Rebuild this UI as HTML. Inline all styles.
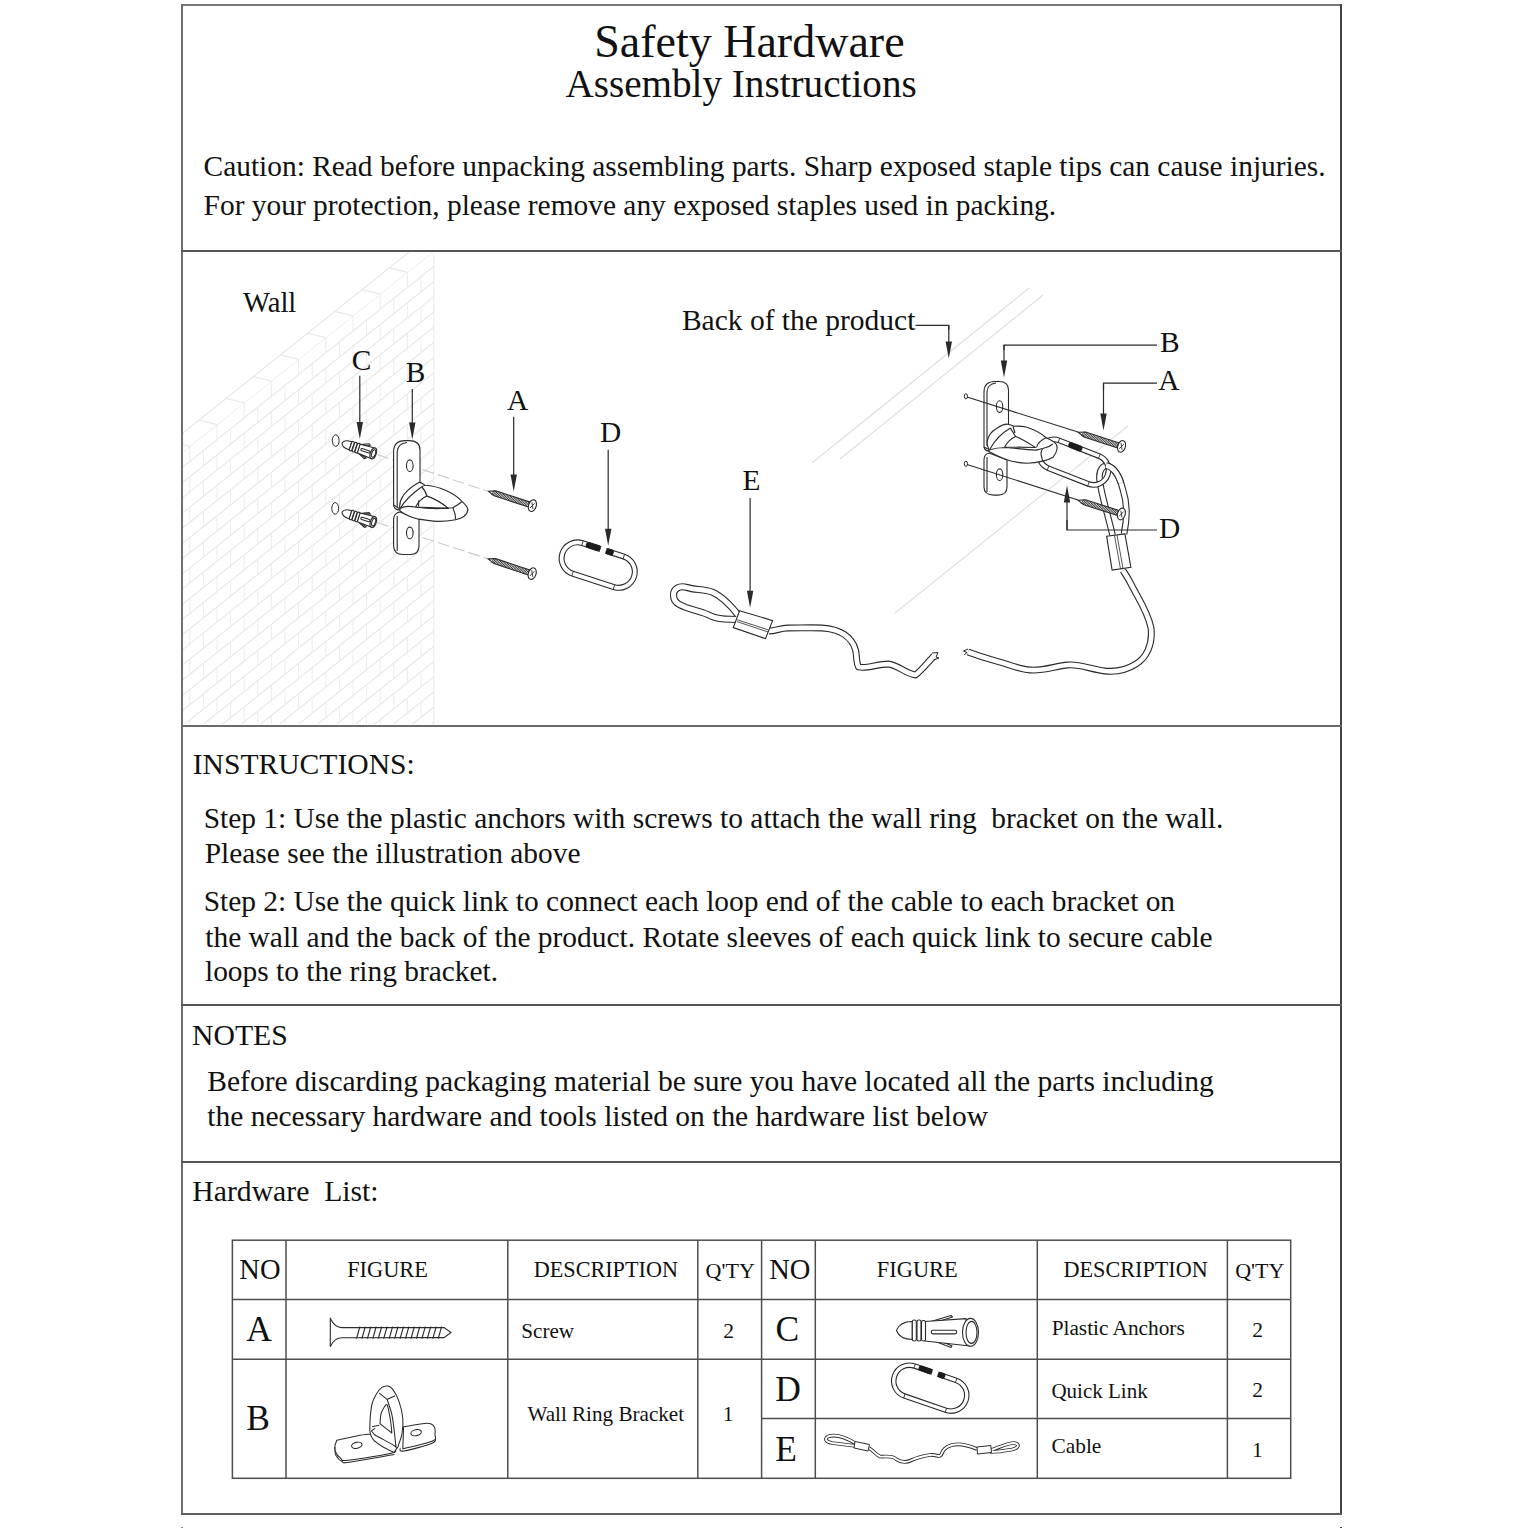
<!DOCTYPE html>
<html><head><meta charset="utf-8"><style>
html,body{margin:0;padding:0;background:#fff;width:1528px;height:1528px;overflow:hidden}
.t{position:absolute;font-family:"Liberation Serif",serif;white-space:pre;}
svg{position:absolute;left:0;top:0}
</style></head><body>
<svg width="1528" height="1528" viewBox="0 0 1528 1528">
<defs><clipPath id="wc"><rect x="183" y="252" width="251.5" height="472"/></clipPath><clipPath id="wb"><path d="M183 451.8 L434 251.0 L434 724 L183 724 Z"/></clipPath></defs><g stroke="#e8e8e8" stroke-width="1.2" fill="none" clip-path="url(#wc)"><path d="M183 451.8 L434 251.0 M183 467.0 L434 266.2 M183 482.2 L434 281.4 M183 497.4 L434 296.6 M183 512.6 L434 311.8 M183 527.8 L434 327.0 M183 543.0 L434 342.2 M183 558.2 L434 357.4 M183 573.4 L434 372.6 M183 588.6 L434 387.8 M183 603.8 L434 403.0 M183 619.0 L434 418.2 M183 634.2 L434 433.4 M183 649.4 L434 448.6 M183 664.6 L434 463.8 M183 679.8 L434 479.0 M183 695.0 L434 494.2 M183 710.2 L434 509.4 M183 725.4 L434 524.6 M183 740.6 L434 539.8 M183 755.8 L434 555.0 M183 771.0 L434 570.2 M183 786.2 L434 585.4 M183 801.4 L434 600.6 M183 816.6 L434 615.8 M183 831.8 L434 631.0 M183 847.0 L434 646.2 M183 862.2 L434 661.4 M183 877.4 L434 676.6 M183 892.6 L434 691.8 M183 907.8 L434 707.0 M183 923.0 L434 722.2 M183 938.2 L434 737.4 " clip-path="url(#wb)"/><path d="M407.4 272.3 L407.4 287.5 M380.2 294.1 L380.2 309.3 M353.0 315.8 L353.0 331.0 M325.8 337.6 L325.8 352.8 M298.6 359.3 L298.6 374.5 M271.4 381.1 L271.4 396.3 M244.2 402.9 L244.2 418.1 M217.0 424.6 L217.0 439.8 M189.8 446.4 L189.8 461.6 M421.0 276.6 L421.0 291.8 M393.8 298.4 L393.8 313.6 M366.6 320.1 L366.6 335.3 M339.4 341.9 L339.4 357.1 M312.2 363.7 L312.2 378.9 M285.0 385.4 L285.0 400.6 M257.8 407.2 L257.8 422.4 M230.6 428.9 L230.6 444.1 M203.4 450.7 L203.4 465.9 M407.4 302.7 L407.4 317.9 M380.2 324.5 L380.2 339.7 M353.0 346.2 L353.0 361.4 M325.8 368.0 L325.8 383.2 M298.6 389.7 L298.6 404.9 M271.4 411.5 L271.4 426.7 M244.2 433.3 L244.2 448.5 M217.0 455.0 L217.0 470.2 M189.8 476.8 L189.8 492.0 M421.0 307.0 L421.0 322.2 M393.8 328.8 L393.8 344.0 M366.6 350.5 L366.6 365.7 M339.4 372.3 L339.4 387.5 M312.2 394.1 L312.2 409.3 M285.0 415.8 L285.0 431.0 M257.8 437.6 L257.8 452.8 M230.6 459.3 L230.6 474.5 M203.4 481.1 L203.4 496.3 M407.4 333.1 L407.4 348.3 M380.2 354.9 L380.2 370.1 M353.0 376.6 L353.0 391.8 M325.8 398.4 L325.8 413.6 M298.6 420.1 L298.6 435.3 M271.4 441.9 L271.4 457.1 M244.2 463.7 L244.2 478.9 M217.0 485.4 L217.0 500.6 M189.8 507.2 L189.8 522.4 M421.0 337.4 L421.0 352.6 M393.8 359.2 L393.8 374.4 M366.6 380.9 L366.6 396.1 M339.4 402.7 L339.4 417.9 M312.2 424.5 L312.2 439.7 M285.0 446.2 L285.0 461.4 M257.8 468.0 L257.8 483.2 M230.6 489.7 L230.6 504.9 M203.4 511.5 L203.4 526.7 M407.4 363.5 L407.4 378.7 M380.2 385.3 L380.2 400.5 M353.0 407.0 L353.0 422.2 M325.8 428.8 L325.8 444.0 M298.6 450.5 L298.6 465.7 M271.4 472.3 L271.4 487.5 M244.2 494.1 L244.2 509.3 M217.0 515.8 L217.0 531.0 M189.8 537.6 L189.8 552.8 M421.0 367.8 L421.0 383.0 M393.8 389.6 L393.8 404.8 M366.6 411.3 L366.6 426.5 M339.4 433.1 L339.4 448.3 M312.2 454.9 L312.2 470.1 M285.0 476.6 L285.0 491.8 M257.8 498.4 L257.8 513.6 M230.6 520.1 L230.6 535.3 M203.4 541.9 L203.4 557.1 M407.4 393.9 L407.4 409.1 M380.2 415.7 L380.2 430.9 M353.0 437.4 L353.0 452.6 M325.8 459.2 L325.8 474.4 M298.6 480.9 L298.6 496.1 M271.4 502.7 L271.4 517.9 M244.2 524.5 L244.2 539.7 M217.0 546.2 L217.0 561.4 M189.8 568.0 L189.8 583.2 M421.0 398.2 L421.0 413.4 M393.8 420.0 L393.8 435.2 M366.6 441.7 L366.6 456.9 M339.4 463.5 L339.4 478.7 M312.2 485.3 L312.2 500.5 M285.0 507.0 L285.0 522.2 M257.8 528.8 L257.8 544.0 M230.6 550.5 L230.6 565.7 M203.4 572.3 L203.4 587.5 M407.4 424.3 L407.4 439.5 M380.2 446.1 L380.2 461.3 M353.0 467.8 L353.0 483.0 M325.8 489.6 L325.8 504.8 M298.6 511.3 L298.6 526.5 M271.4 533.1 L271.4 548.3 M244.2 554.9 L244.2 570.1 M217.0 576.6 L217.0 591.8 M189.8 598.4 L189.8 613.6 M421.0 428.6 L421.0 443.8 M393.8 450.4 L393.8 465.6 M366.6 472.1 L366.6 487.3 M339.4 493.9 L339.4 509.1 M312.2 515.7 L312.2 530.9 M285.0 537.4 L285.0 552.6 M257.8 559.2 L257.8 574.4 M230.6 580.9 L230.6 596.1 M203.4 602.7 L203.4 617.9 M407.4 454.7 L407.4 469.9 M380.2 476.5 L380.2 491.7 M353.0 498.2 L353.0 513.4 M325.8 520.0 L325.8 535.2 M298.6 541.7 L298.6 556.9 M271.4 563.5 L271.4 578.7 M244.2 585.3 L244.2 600.5 M217.0 607.0 L217.0 622.2 M189.8 628.8 L189.8 644.0 M421.0 459.0 L421.0 474.2 M393.8 480.8 L393.8 496.0 M366.6 502.5 L366.6 517.7 M339.4 524.3 L339.4 539.5 M312.2 546.1 L312.2 561.3 M285.0 567.8 L285.0 583.0 M257.8 589.6 L257.8 604.8 M230.6 611.3 L230.6 626.5 M203.4 633.1 L203.4 648.3 M407.4 485.1 L407.4 500.3 M380.2 506.9 L380.2 522.1 M353.0 528.6 L353.0 543.8 M325.8 550.4 L325.8 565.6 M298.6 572.1 L298.6 587.3 M271.4 593.9 L271.4 609.1 M244.2 615.7 L244.2 630.9 M217.0 637.4 L217.0 652.6 M189.8 659.2 L189.8 674.4 M421.0 489.4 L421.0 504.6 M393.8 511.2 L393.8 526.4 M366.6 532.9 L366.6 548.1 M339.4 554.7 L339.4 569.9 M312.2 576.5 L312.2 591.7 M285.0 598.2 L285.0 613.4 M257.8 620.0 L257.8 635.2 M230.6 641.7 L230.6 656.9 M203.4 663.5 L203.4 678.7 M407.4 515.5 L407.4 530.7 M380.2 537.3 L380.2 552.5 M353.0 559.0 L353.0 574.2 M325.8 580.8 L325.8 596.0 M298.6 602.5 L298.6 617.7 M271.4 624.3 L271.4 639.5 M244.2 646.1 L244.2 661.3 M217.0 667.8 L217.0 683.0 M189.8 689.6 L189.8 704.8 M421.0 519.8 L421.0 535.0 M393.8 541.6 L393.8 556.8 M366.6 563.3 L366.6 578.5 M339.4 585.1 L339.4 600.3 M312.2 606.9 L312.2 622.1 M285.0 628.6 L285.0 643.8 M257.8 650.4 L257.8 665.6 M230.6 672.1 L230.6 687.3 M203.4 693.9 L203.4 709.1 M407.4 545.9 L407.4 561.1 M380.2 567.7 L380.2 582.9 M353.0 589.4 L353.0 604.6 M325.8 611.2 L325.8 626.4 M298.6 632.9 L298.6 648.1 M271.4 654.7 L271.4 669.9 M244.2 676.5 L244.2 691.7 M217.0 698.2 L217.0 713.4 M189.8 720.0 L189.8 735.2 M421.0 550.2 L421.0 565.4 M393.8 572.0 L393.8 587.2 M366.6 593.7 L366.6 608.9 M339.4 615.5 L339.4 630.7 M312.2 637.3 L312.2 652.5 M285.0 659.0 L285.0 674.2 M257.8 680.8 L257.8 696.0 M230.6 702.5 L230.6 717.7 M203.4 724.3 L203.4 739.5 M407.4 576.3 L407.4 591.5 M380.2 598.1 L380.2 613.3 M353.0 619.8 L353.0 635.0 M325.8 641.6 L325.8 656.8 M298.6 663.3 L298.6 678.5 M271.4 685.1 L271.4 700.3 M244.2 706.9 L244.2 722.1 M217.0 728.6 L217.0 743.8 M189.8 750.4 L189.8 765.6 M421.0 580.6 L421.0 595.8 M393.8 602.4 L393.8 617.6 M366.6 624.1 L366.6 639.3 M339.4 645.9 L339.4 661.1 M312.2 667.7 L312.2 682.9 M285.0 689.4 L285.0 704.6 M257.8 711.2 L257.8 726.4 M230.6 732.9 L230.6 748.1 M203.4 754.7 L203.4 769.9 M407.4 606.7 L407.4 621.9 M380.2 628.5 L380.2 643.7 M353.0 650.2 L353.0 665.4 M325.8 672.0 L325.8 687.2 M298.6 693.7 L298.6 708.9 M271.4 715.5 L271.4 730.7 M244.2 737.3 L244.2 752.5 M217.0 759.0 L217.0 774.2 M189.8 780.8 L189.8 796.0 M421.0 611.0 L421.0 626.2 M393.8 632.8 L393.8 648.0 M366.6 654.5 L366.6 669.7 M339.4 676.3 L339.4 691.5 M312.2 698.1 L312.2 713.3 M285.0 719.8 L285.0 735.0 M257.8 741.6 L257.8 756.8 M230.6 763.3 L230.6 778.5 M203.4 785.1 L203.4 800.3 M407.4 637.1 L407.4 652.3 M380.2 658.9 L380.2 674.1 M353.0 680.6 L353.0 695.8 M325.8 702.4 L325.8 717.6 M298.6 724.1 L298.6 739.3 M271.4 745.9 L271.4 761.1 M244.2 767.7 L244.2 782.9 M217.0 789.4 L217.0 804.6 M189.8 811.2 L189.8 826.4 M421.0 641.4 L421.0 656.6 M393.8 663.2 L393.8 678.4 M366.6 684.9 L366.6 700.1 M339.4 706.7 L339.4 721.9 M312.2 728.5 L312.2 743.7 M285.0 750.2 L285.0 765.4 M257.8 772.0 L257.8 787.2 M230.6 793.7 L230.6 808.9 M203.4 815.5 L203.4 830.7 M407.4 667.5 L407.4 682.7 M380.2 689.3 L380.2 704.5 M353.0 711.0 L353.0 726.2 M325.8 732.8 L325.8 748.0 M298.6 754.5 L298.6 769.7 M271.4 776.3 L271.4 791.5 M244.2 798.1 L244.2 813.3 M217.0 819.8 L217.0 835.0 M189.8 841.6 L189.8 856.8 M421.0 671.8 L421.0 687.0 M393.8 693.6 L393.8 708.8 M366.6 715.3 L366.6 730.5 M339.4 737.1 L339.4 752.3 M312.2 758.9 L312.2 774.1 M285.0 780.6 L285.0 795.8 M257.8 802.4 L257.8 817.6 M230.6 824.1 L230.6 839.3 M203.4 845.9 L203.4 861.1 M407.4 697.9 L407.4 713.1 M380.2 719.7 L380.2 734.9 M353.0 741.4 L353.0 756.6 M325.8 763.2 L325.8 778.4 M298.6 784.9 L298.6 800.1 M271.4 806.7 L271.4 821.9 M244.2 828.5 L244.2 843.7 M217.0 850.2 L217.0 865.4 M189.8 872.0 L189.8 887.2 M421.0 702.2 L421.0 717.4 M393.8 724.0 L393.8 739.2 M366.6 745.7 L366.6 760.9 M339.4 767.5 L339.4 782.7 M312.2 789.3 L312.2 804.5 M285.0 811.0 L285.0 826.2 M257.8 832.8 L257.8 848.0 M230.6 854.5 L230.6 869.7 M203.4 876.3 L203.4 891.5 M407.4 728.3 L407.4 743.5 M380.2 750.1 L380.2 765.3 M353.0 771.8 L353.0 787.0 M325.8 793.6 L325.8 808.8 M298.6 815.3 L298.6 830.5 M271.4 837.1 L271.4 852.3 M244.2 858.9 L244.2 874.1 M217.0 880.6 L217.0 895.8 M189.8 902.4 L189.8 917.6 M421.0 732.6 L421.0 747.8 M393.8 754.4 L393.8 769.6 M366.6 776.1 L366.6 791.3 M339.4 797.9 L339.4 813.1 M312.2 819.7 L312.2 834.9 M285.0 841.4 L285.0 856.6 M257.8 863.2 L257.8 878.4 M230.6 884.9 L230.6 900.1 M203.4 906.7 L203.4 921.9 " clip-path="url(#wb)" stroke="#ececec" stroke-width="1"/><path d="M443.8 224.3 L461.8 228.8 M416.6 246.0 L434.6 250.5 M389.4 267.8 L407.4 272.3 M362.2 289.6 L380.2 294.1 M335.0 311.3 L353.0 315.8 M307.8 333.1 L325.8 337.6 M280.6 354.8 L298.6 359.3 M253.4 376.6 L271.4 381.1 M226.2 398.4 L244.2 402.9 M199.0 420.1 L217.0 424.6 M171.8 441.9 L189.8 446.4 M144.6 463.6 L162.6 468.1 M144.6 463.6 L443.8 224.3 "/><line x1="434" y1="254" x2="434" y2="724"/></g>
<g stroke="#e0e0e0" stroke-width="1.2"><line x1="812" y1="463" x2="1029" y2="288"/><line x1="840" y1="459" x2="1043" y2="295"/><line x1="895" y1="613" x2="1128" y2="426"/></g>
<g stroke="#cccccc" stroke-width="1.2" stroke-dasharray="12 4"><line x1="377" y1="454.5" x2="487" y2="491"/><line x1="377" y1="522.5" x2="487" y2="558.6"/></g>
<g fill="#fff" stroke="#2a2a2a" stroke-width="1"><ellipse cx="335.7" cy="440.6" rx="3.4" ry="5.8"/><ellipse cx="335.2" cy="508.4" rx="3.4" ry="5.8"/></g>
<g transform="translate(342.00,443.00) rotate(18.38) scale(0.999)" stroke="#2a2a2a" stroke-width="1.10" fill="#fff"><path d="M19 -4.6 L26 -7.8 L27.5 -6.8 L21 -4.4 M19 4.6 L26 7.8 L27.5 6.8 L21 4.4"/><path d="M0 0 C1 -3 4 -4.2 8 -4.2 L9 -4.2 L9 4.2 L8 4.2 C4 4.2 1 3 0 0 Z"/><path d="M17.5 -4.6 L33 -5.6 L33 5.6 L17.5 4.6 Z"/><rect x="9" y="-4.8" width="2.6" height="9.6" rx="1"/><rect x="12" y="-4.9" width="2.6" height="9.8" rx="1"/><rect x="15" y="-4.9" width="2.6" height="9.8" rx="1"/><rect x="20" y="-1.1" width="9.5" height="2.2" rx="1"/><ellipse cx="33" cy="0" rx="2.9" ry="5.6"/><ellipse cx="33.3" cy="0" rx="1.8" ry="3.9"/></g>
<g transform="translate(342.00,512.00) rotate(17.72) scale(0.996)" stroke="#2a2a2a" stroke-width="1.10" fill="#fff"><path d="M19 -4.6 L26 -7.8 L27.5 -6.8 L21 -4.4 M19 4.6 L26 7.8 L27.5 6.8 L21 4.4"/><path d="M0 0 C1 -3 4 -4.2 8 -4.2 L9 -4.2 L9 4.2 L8 4.2 C4 4.2 1 3 0 0 Z"/><path d="M17.5 -4.6 L33 -5.6 L33 5.6 L17.5 4.6 Z"/><rect x="9" y="-4.8" width="2.6" height="9.6" rx="1"/><rect x="12" y="-4.9" width="2.6" height="9.8" rx="1"/><rect x="15" y="-4.9" width="2.6" height="9.8" rx="1"/><rect x="20" y="-1.1" width="9.5" height="2.2" rx="1"/><ellipse cx="33" cy="0" rx="2.9" ry="5.6"/><ellipse cx="33.3" cy="0" rx="1.8" ry="3.9"/></g>
<g fill="#fff" stroke="#2a2a2a" stroke-width="1.1"><path d="M393.6 505 L393.6 452 Q393.6 440.6 405 440.6 L409 440.6 Q420 440.6 420 450 L420 483 L400 509 Z"/><path d="M397.2 507 L397.2 452 Q397.5 443.5 407 442.5" fill="none"/><path d="M393.6 505 Q394 510 400 510" fill="none"/><path d="M400 512 Q394 513 393.6 519 L393.6 546 Q394 554.5 403 554.5 L410 554.5 Q419 554.5 419 546 L419 519 Z"/><path d="M397.2 516 L397.2 551" fill="none"/><ellipse cx="409.8" cy="465.7" rx="3.3" ry="5.8"/><ellipse cx="409.8" cy="532.9" rx="3.3" ry="5.8"/></g>
<g fill="#fff" stroke="#2a2a2a" stroke-width="1.15" stroke-linejoin="round"><path d="M400 509.5 C398 500 405 490 418.9 482.5 C421 482 423 484 425 485.3 C440 486 455 494 461.7 501.1 C466 505 468 508 467.9 510 C467 516 462 518 455.6 519.8 C449 521 443 521.5 437.3 521.4 C430 521 424 520 417.8 519 C410 517 404 514 400 511 Z"/><path d="M415.6 507 C418 502 422 498 426.7 495.9 C435 499 442 503 448.4 508.4 Z"/><path d="M400 508.4 C404 506 410 506 415 507 C425 508.5 440 509 452.8 507.8 C456 506 459 504 461.7 501.7" fill="none"/><path d="M400.5 508 C405 500 413 493 421.1 487.2 C423 486 424 485.5 425 485.3" fill="none"/><path d="M421.7 487 C424 489 426 493 426.7 495.9" fill="none"/><path d="M452.8 507.8 C455 512 455.6 516 455.6 519.8" fill="none"/><path d="M418.6 500.5 L418.6 506.5" fill="none"/></g>
<g transform="translate(488.40,491.20) rotate(18.12)"><path d="M0 0 L7 -2.6 L42.5 -2.6 L42.5 2.6 L7 2.6 Z" fill="#fff" stroke="#2a2a2a" stroke-width="1.1"/><path d="M4.0 2.6 L5.6 -2.6 M5.5 2.6 L7.1 -2.6 M6.9 2.6 L8.5 -2.6 M8.3 2.6 L9.9 -2.6 M9.8 2.6 L11.4 -2.6 M11.2 2.6 L12.8 -2.6 M12.7 2.6 L14.3 -2.6 M14.1 2.6 L15.7 -2.6 M15.6 2.6 L17.2 -2.6 M17.0 2.6 L18.6 -2.6 M18.5 2.6 L20.1 -2.6 M19.9 2.6 L21.5 -2.6 M21.4 2.6 L23.0 -2.6 M22.8 2.6 L24.4 -2.6 M24.3 2.6 L25.9 -2.6 M25.7 2.6 L27.3 -2.6 M27.2 2.6 L28.8 -2.6 M28.6 2.6 L30.2 -2.6 M30.1 2.6 L31.7 -2.6 M31.5 2.6 L33.1 -2.6 M33.0 2.6 L34.6 -2.6 M34.4 2.6 L36.0 -2.6 M35.9 2.6 L37.5 -2.6 M37.4 2.6 L39.0 -2.6 M38.8 2.6 L40.4 -2.6 M40.3 2.6 L41.9 -2.6 " stroke="#333" stroke-width="0.9"/><ellipse cx="46.3" cy="0" rx="3.8" ry="6.0" fill="#fff" stroke="#2a2a2a" stroke-width="1.1"/><path d="M44.8 -3 L47.8 3 M47.8 -3 L44.8 3" stroke="#2a2a2a" stroke-width="0.8"/></g>
<g transform="translate(488.20,558.90) rotate(18.47)"><path d="M0 0 L7 -2.6 L42.6 -2.6 L42.6 2.6 L7 2.6 Z" fill="#fff" stroke="#2a2a2a" stroke-width="1.1"/><path d="M4.0 2.6 L5.6 -2.6 M5.5 2.6 L7.1 -2.6 M6.9 2.6 L8.5 -2.6 M8.3 2.6 L9.9 -2.6 M9.8 2.6 L11.4 -2.6 M11.2 2.6 L12.8 -2.6 M12.7 2.6 L14.3 -2.6 M14.1 2.6 L15.7 -2.6 M15.6 2.6 L17.2 -2.6 M17.0 2.6 L18.6 -2.6 M18.5 2.6 L20.1 -2.6 M19.9 2.6 L21.5 -2.6 M21.4 2.6 L23.0 -2.6 M22.8 2.6 L24.4 -2.6 M24.3 2.6 L25.9 -2.6 M25.7 2.6 L27.3 -2.6 M27.2 2.6 L28.8 -2.6 M28.6 2.6 L30.2 -2.6 M30.1 2.6 L31.7 -2.6 M31.5 2.6 L33.1 -2.6 M33.0 2.6 L34.6 -2.6 M34.4 2.6 L36.0 -2.6 M35.9 2.6 L37.5 -2.6 M37.4 2.6 L39.0 -2.6 M38.8 2.6 L40.4 -2.6 M40.3 2.6 L41.9 -2.6 " stroke="#333" stroke-width="0.9"/><ellipse cx="46.4" cy="0" rx="3.8" ry="6.0" fill="#fff" stroke="#2a2a2a" stroke-width="1.1"/><path d="M44.9 -3 L47.9 3 M47.9 -3 L44.9 3" stroke="#2a2a2a" stroke-width="0.8"/></g>
<line x1="359.8" y1="375.8" x2="359.8" y2="424.0" stroke="#2a2a2a" stroke-width="1.2"/>
<path d="M356.6 422.0 L363.0 422.0 L359.8 439.0 Z" fill="#2a2a2a"/>
<line x1="412.3" y1="389" x2="412.3" y2="424.5" stroke="#2a2a2a" stroke-width="1.2"/>
<path d="M409.1 422.5 L415.5 422.5 L412.3 439.5 Z" fill="#2a2a2a"/>
<line x1="513.7" y1="416.8" x2="513.7" y2="476.40000000000003" stroke="#2a2a2a" stroke-width="1.2"/>
<path d="M510.50000000000006 474.40000000000003 L516.9000000000001 474.40000000000003 L513.7 491.40000000000003 Z" fill="#2a2a2a"/>
<path d="M582.44 543.13 L623.84 556.53 A16.05 16.05 0 0 1 613.96 587.07 L572.56 573.67 A16.05 16.05 0 0 1 582.44 543.13 Z" fill="none" stroke="#2a2a2a" stroke-width="6.0"/><path d="M582.44 543.13 L623.84 556.53 A16.05 16.05 0 0 1 613.96 587.07 L572.56 573.67 A16.05 16.05 0 0 1 582.44 543.13 Z" fill="none" stroke="#fff" stroke-width="3.8000000000000003"/><line x1="581.69" y1="545.46" x2="583.20" y2="540.80" stroke="#2a2a2a" stroke-width="0.9"/><line x1="573.31" y1="571.34" x2="571.80" y2="576.00" stroke="#2a2a2a" stroke-width="0.9"/><line x1="623.09" y1="558.86" x2="624.60" y2="554.20" stroke="#2a2a2a" stroke-width="0.9"/><line x1="614.71" y1="584.74" x2="613.20" y2="589.40" stroke="#2a2a2a" stroke-width="0.9"/><line x1="600.66" y1="549.03" x2="605.75" y2="550.67" stroke="#fff" stroke-width="7.9"/><line x1="588.88" y1="545.21" x2="597.66" y2="548.06" stroke="#1c1c1c" stroke-width="6.30" stroke-linecap="round"/><line x1="608.75" y1="551.64" x2="610.70" y2="552.28" stroke="#1c1c1c" stroke-width="6.30" stroke-linecap="round"/>
<line x1="608.2" y1="449.8" x2="608.2" y2="530.8" stroke="#2a2a2a" stroke-width="1.2"/>
<path d="M605.0 528.8 L611.4000000000001 528.8 L608.2 545.8 Z" fill="#2a2a2a"/>
<path d="M739 616 C732 607 722 596 712 592 C704 589 695 590 687 587.5 C680 585.5 673 588 673.5 596 C674 603 680 605 686 607.5 C696 611 704 612 712 616.5 C720 620 728 619 737 619.5" fill="none" stroke="#2a2a2a" stroke-width="7.1" stroke-linejoin="round" stroke-linecap="butt"/>
<path d="M739 616 C732 607 722 596 712 592 C704 589 695 590 687 587.5 C680 585.5 673 588 673.5 596 C674 603 680 605 686 607.5 C696 611 704 612 712 616.5 C720 620 728 619 737 619.5" fill="none" stroke="#fff" stroke-width="4.9" stroke-linejoin="round" stroke-linecap="butt"/>
<path d="M769 631 C776 631 780 628 788 628 C800 628 812 627.5 822 628 C840 629 852 637 855.5 650 C857 656 856 662 858.5 667 C866 669 878 664 888 664 C898 665 906 674 915.5 675 C922 670 928 662 934 656" fill="none" stroke="#2a2a2a" stroke-width="6.9" stroke-linejoin="round" stroke-linecap="butt"/>
<path d="M769 631 C776 631 780 628 788 628 C800 628 812 627.5 822 628 C840 629 852 637 855.5 650 C857 656 856 662 858.5 667 C866 669 878 664 888 664 C898 665 906 674 915.5 675 C922 670 928 662 934 656" fill="none" stroke="#fff" stroke-width="4.699999999999999" stroke-linejoin="round" stroke-linecap="butt"/>
<path d="M932 653 L938 652.5 L936 657 L939 658 L933.5 660" fill="#fff" stroke="#2a2a2a" stroke-width="1"/>
<path d="M739.6 610.7 L772.6 620.6 L765.5 638.6 L733.3 627.6 Z" fill="#fff" stroke="#2a2a2a" stroke-width="1.1"/>
<path d="M737.3 619.8 L768.7 630 M737 621.6 L768.2 632" stroke="#2a2a2a" stroke-width="0.8"/>
<line x1="750.1" y1="498" x2="750.1" y2="592.8" stroke="#2a2a2a" stroke-width="1.2"/>
<path d="M746.9 590.8 L753.3000000000001 590.8 L750.1 607.8 Z" fill="#2a2a2a"/>
<g fill="#fff" stroke="#2a2a2a" stroke-width="1.1"><path d="M984 447 L984 392 Q984 381.5 995 381.5 L999 381.5 Q1008.5 381.5 1008.5 390 L1008.5 424 L990 450 Z"/><path d="M987 446 L987 392 Q987.5 384 996 383" fill="none"/><path d="M984 447 Q985 451 989 451" fill="none"/><path d="M989 453 Q984 454 984 460 L984 487 Q984 495.1 994 495.1 L998 495.1 Q1007 495.1 1007 487 L1007 460 Z"/><path d="M987 457 L987 492" fill="none"/><ellipse cx="999.6" cy="406.6" rx="3.2" ry="5.8"/><ellipse cx="999.6" cy="474.7" rx="3.2" ry="5.8"/></g>
<path d="M1124 534 C1128 515 1127 502 1123 490 C1120 478 1115 468 1108 466 C1103 465 1099 470 1099.5 478 C1100 490 1108 515 1112.5 535" fill="none" stroke="#2a2a2a" stroke-width="6.699999999999999" stroke-linejoin="round" stroke-linecap="butt"/>
<path d="M1124 534 C1128 515 1127 502 1123 490 C1120 478 1115 468 1108 466 C1103 465 1099 470 1099.5 478 C1100 490 1108 515 1112.5 535" fill="none" stroke="#fff" stroke-width="4.5" stroke-linejoin="round" stroke-linecap="butt"/>
<path d="M1058.96 440.34 L1099.36 456.24 A14.899999999999999 14.899999999999999 0 0 1 1088.44 483.96 L1048.04 468.06 A14.899999999999999 14.899999999999999 0 0 1 1058.96 440.34 Z" fill="none" stroke="#2a2a2a" stroke-width="5.699999999999999"/><path d="M1058.96 440.34 L1099.36 456.24 A14.899999999999999 14.899999999999999 0 0 1 1088.44 483.96 L1048.04 468.06 A14.899999999999999 14.899999999999999 0 0 1 1058.96 440.34 Z" fill="none" stroke="#fff" stroke-width="3.4999999999999996"/><line x1="1058.11" y1="442.48" x2="1059.80" y2="438.19" stroke="#2a2a2a" stroke-width="0.9"/><line x1="1048.89" y1="465.92" x2="1047.20" y2="470.21" stroke="#2a2a2a" stroke-width="0.9"/><line x1="1098.51" y1="458.38" x2="1100.20" y2="454.09" stroke="#2a2a2a" stroke-width="0.9"/><line x1="1089.29" y1="481.82" x2="1087.60" y2="486.11" stroke="#2a2a2a" stroke-width="0.9"/><line x1="1071.28" y1="445.19" x2="1079.44" y2="448.39" stroke="#1c1c1c" stroke-width="6.00" stroke-linecap="round"/>
<g fill="#fff" stroke="#2a2a2a" stroke-width="1.15" stroke-linejoin="round"><path d="M988.9 449 C985 443 988 434 995.7 429.1 C1000 426 1004 424 1007.7 424.2 C1010 424.5 1012 425.5 1014 426.3 C1018 426 1022 426 1026 427 C1034 429.5 1041 433 1046.5 438 C1049 439 1051 440 1052.8 441.2 C1056 443 1057.5 446 1057 449 C1056.5 452 1055 455 1053.3 456.9 C1050 459 1046 460.5 1042.8 461.1 C1037 462.5 1032 463.2 1027.1 463.2 C1019 463 1012 461.5 1006.2 459.5 C999 457 993 454 988.9 451.6 Z"/><path d="M1004.6 447 C1008 441 1012 438 1015.6 436.5 C1024 440 1030 444 1035.5 447.5 Z"/><path d="M989 450 C995 448 1000 447.5 1006.2 447.5 C1015 448 1025 450 1035 450.1 C1038 450 1040 449 1042.8 448.5 C1046 448 1050 446.5 1052.8 444" fill="none"/><path d="M990 449 C995 440 1002 433 1010.4 428.1" fill="none"/><path d="M1010.4 428.1 L1015.6 436.5 M1013 426.3 L1015 433" fill="none"/><path d="M1046.5 437.5 C1041 440 1037.5 443 1036.5 447.5" fill="none"/><path d="M1042.8 461.1 C1041 455 1040 452 1042.8 448.5" fill="none"/></g>
<path d="M1106 465.5 C1113 467 1118 474 1121 483" fill="none" stroke="#2a2a2a" stroke-width="6.7"/><path d="M1106 465.5 C1113 467 1118 474 1121 483" fill="none" stroke="#fff" stroke-width="4.5"/>
<path d="M1106.6 536.2 L1124.9 533.9 L1130.9 567.4 L1112.1 570.1 Z" fill="#fff" stroke="#2a2a2a" stroke-width="1.1"/>
<path d="M1114.5 535.5 L1120.5 569 M1117 535 L1123 568.5" stroke="#2a2a2a" stroke-width="0.8"/>
<path d="M1123 570.5 C1126 575 1128 578 1131 584 C1138 598 1148 612 1151 628 C1153 645 1146 658 1136 664 C1125 671 1115 672 1105 671 C1090 669 1080 664 1068 665 C1055 666 1045 671 1030 670 C1018 669 1008 664 996 661 C985 658 976 655 968 652" fill="none" stroke="#2a2a2a" stroke-width="6.9" stroke-linejoin="round" stroke-linecap="butt"/>
<path d="M1123 570.5 C1126 575 1128 578 1131 584 C1138 598 1148 612 1151 628 C1153 645 1146 658 1136 664 C1125 671 1115 672 1105 671 C1090 669 1080 664 1068 665 C1055 666 1045 671 1030 670 C1018 669 1008 664 996 661 C985 658 976 655 968 652" fill="none" stroke="#fff" stroke-width="4.699999999999999" stroke-linejoin="round" stroke-linecap="butt"/>
<path d="M968 649 L963.5 651 L967 652.5 L964 655" fill="none" stroke="#2a2a2a" stroke-width="1"/>
<g fill="none" stroke="#2a2a2a" stroke-width="1"><ellipse cx="965.9" cy="396.3" rx="1.6" ry="2.6"/><ellipse cx="965.9" cy="463.8" rx="1.6" ry="2.6"/></g>
<g stroke="#2a2a2a" stroke-width="1.05"><line x1="967" y1="397" x2="1078" y2="432"/><line x1="967" y1="464.5" x2="1078" y2="500"/></g>
<g transform="translate(1078.20,432.30) rotate(18.00)"><path d="M0 0 L7 -2.6 L41.8 -2.6 L41.8 2.6 L7 2.6 Z" fill="#fff" stroke="#2a2a2a" stroke-width="1.1"/><path d="M4.0 2.6 L5.6 -2.6 M5.5 2.6 L7.1 -2.6 M6.9 2.6 L8.5 -2.6 M8.3 2.6 L9.9 -2.6 M9.8 2.6 L11.4 -2.6 M11.2 2.6 L12.8 -2.6 M12.7 2.6 L14.3 -2.6 M14.1 2.6 L15.7 -2.6 M15.6 2.6 L17.2 -2.6 M17.0 2.6 L18.6 -2.6 M18.5 2.6 L20.1 -2.6 M19.9 2.6 L21.5 -2.6 M21.4 2.6 L23.0 -2.6 M22.8 2.6 L24.4 -2.6 M24.3 2.6 L25.9 -2.6 M25.7 2.6 L27.3 -2.6 M27.2 2.6 L28.8 -2.6 M28.6 2.6 L30.2 -2.6 M30.1 2.6 L31.7 -2.6 M31.5 2.6 L33.1 -2.6 M33.0 2.6 L34.6 -2.6 M34.4 2.6 L36.0 -2.6 M35.9 2.6 L37.5 -2.6 M37.4 2.6 L39.0 -2.6 M38.8 2.6 L40.4 -2.6 M40.3 2.6 L41.9 -2.6 " stroke="#333" stroke-width="0.9"/><ellipse cx="45.6" cy="0" rx="3.8" ry="6.0" fill="#fff" stroke="#2a2a2a" stroke-width="1.1"/><path d="M44.1 -3 L47.1 3 M47.1 -3 L44.1 3" stroke="#2a2a2a" stroke-width="0.8"/></g>
<g transform="translate(1078.00,500.20) rotate(17.64)"><path d="M0 0 L7 -2.6 L41.7 -2.6 L41.7 2.6 L7 2.6 Z" fill="#fff" stroke="#2a2a2a" stroke-width="1.1"/><path d="M4.0 2.6 L5.6 -2.6 M5.5 2.6 L7.1 -2.6 M6.9 2.6 L8.5 -2.6 M8.3 2.6 L9.9 -2.6 M9.8 2.6 L11.4 -2.6 M11.2 2.6 L12.8 -2.6 M12.7 2.6 L14.3 -2.6 M14.1 2.6 L15.7 -2.6 M15.6 2.6 L17.2 -2.6 M17.0 2.6 L18.6 -2.6 M18.5 2.6 L20.1 -2.6 M19.9 2.6 L21.5 -2.6 M21.4 2.6 L23.0 -2.6 M22.8 2.6 L24.4 -2.6 M24.3 2.6 L25.9 -2.6 M25.7 2.6 L27.3 -2.6 M27.2 2.6 L28.8 -2.6 M28.6 2.6 L30.2 -2.6 M30.1 2.6 L31.7 -2.6 M31.5 2.6 L33.1 -2.6 M33.0 2.6 L34.6 -2.6 M34.4 2.6 L36.0 -2.6 M35.9 2.6 L37.5 -2.6 M37.4 2.6 L39.0 -2.6 M38.8 2.6 L40.4 -2.6 M40.3 2.6 L41.9 -2.6 " stroke="#333" stroke-width="0.9"/><ellipse cx="45.5" cy="0" rx="3.8" ry="6.0" fill="#fff" stroke="#2a2a2a" stroke-width="1.1"/><path d="M44.0 -3 L47.0 3 M47.0 -3 L44.0 3" stroke="#2a2a2a" stroke-width="0.8"/></g>
<g stroke="#2a2a2a" stroke-width="1.2" fill="none"><path d="M1157 345.1 L1004 345.1 L1004 350"/><path d="M1157 383.2 L1103.5 383.2 L1103.5 390"/><path d="M1157 530 L1067 530 L1067 520"/><path d="M915.5 325.4 L948.8 325.4 L948.8 330"/></g>
<line x1="1004" y1="345.1" x2="1004" y2="362.40000000000003" stroke="#2a2a2a" stroke-width="1.2"/>
<path d="M1000.8 360.40000000000003 L1007.2 360.40000000000003 L1004 377.40000000000003 Z" fill="#2a2a2a"/>
<line x1="1103.5" y1="383.2" x2="1103.5" y2="415.6" stroke="#2a2a2a" stroke-width="1.2"/>
<path d="M1100.3 413.6 L1106.7 413.6 L1103.5 430.6 Z" fill="#2a2a2a"/>
<line x1="1067" y1="530" x2="1067" y2="500.4" stroke="#2a2a2a" stroke-width="1.2"/>
<path d="M1063.8 502.4 L1070.2 502.4 L1067 485.4 Z" fill="#2a2a2a"/>
<line x1="948.8" y1="325.4" x2="948.8" y2="343.6" stroke="#2a2a2a" stroke-width="1.2"/>
<path d="M945.5999999999999 341.6 L952.0 341.6 L948.8 358.6 Z" fill="#2a2a2a"/>
<g stroke="#2a2a2a" stroke-width="1.1" fill="none"><path d="M330.3 1317.8 L330.3 1346.7"/><path d="M330.3 1318.5 C333 1324 336 1327.6 342 1327.6 L444 1327.6 L451 1332.5 L444 1337.6 L342 1337.8 C336 1337.8 333 1341 330.3 1346.5"/><path d="M356.5 1338.6 L359.9 1326.6 M361.9 1338.6 L365.3 1326.6 M367.4 1338.6 L370.8 1326.6 M372.8 1338.6 L376.2 1326.6 M378.3 1338.6 L381.7 1326.6 M383.7 1338.6 L387.1 1326.6 M389.2 1338.6 L392.6 1326.6 M394.6 1338.6 L398.0 1326.6 M400.1 1338.6 L403.5 1326.6 M405.5 1338.6 L408.9 1326.6 M411.0 1338.6 L414.4 1326.6 M416.4 1338.6 L419.8 1326.6 M421.9 1338.6 L425.3 1326.6 M427.3 1338.6 L430.7 1326.6 M432.8 1338.6 L436.2 1326.6 M438.2 1338.6 L441.6 1326.6 " stroke-width="1.15"/></g>
<g fill="#fff" stroke="#2a2a2a" stroke-width="1.05" stroke-linejoin="round"><path d="M400.00 1448.00 C400.60 1448.50 398.17 1451.83 403.60 1451.00 C409.03 1450.17 427.33 1445.50 432.60 1443.00 C437.87 1440.50 434.77 1437.17 435.20 1436.00 " fill="none"/><path d="M403.60 1426.80 C407.52 1426.22 422.00 1423.30 427.10 1423.30 C432.20 1423.30 432.88 1424.90 434.20 1426.80 C435.52 1428.70 435.27 1432.33 435.00 1434.70 C434.73 1437.07 437.97 1438.63 432.60 1441.00 C427.23 1443.37 407.77 1447.58 402.80 1448.90 Z"/><ellipse cx="416.1" cy="1432.7" rx="5.3" ry="3.0" transform="rotate(-12 416.1 1432.7)"/><path d="M334.60 1447.00 C334.83 1448.42 334.77 1453.08 336.00 1455.50 C337.23 1457.92 339.83 1460.37 342.00 1461.50 C344.17 1462.63 340.25 1463.45 349.00 1462.30 C357.75 1461.15 386.92 1455.88 394.50 1454.60 " fill="none"/><path d="M336.80 1440.20 C342.17 1439.22 362.63 1434.17 369.00 1434.30 C375.37 1434.43 372.38 1438.80 375.00 1441.00 C377.62 1443.20 381.52 1445.60 384.70 1447.50 C387.88 1449.40 400.25 1450.28 394.10 1452.40 C387.95 1454.52 356.70 1459.22 347.80 1460.20 C338.90 1461.18 342.73 1459.67 340.70 1458.30 C338.67 1456.93 336.55 1454.18 335.60 1452.00 C334.65 1449.82 335.10 1446.33 335.00 1445.20 Z"/><ellipse cx="356.8" cy="1445.3" rx="5.3" ry="3.0" transform="rotate(-12 356.8 1445.3)"/><path d="M369.80 1430.00 C369.87 1428.00 369.83 1422.33 370.20 1418.00 C370.57 1413.67 371.02 1407.90 372.00 1404.00 C372.98 1400.10 374.50 1397.33 376.10 1394.60 C377.70 1391.87 379.65 1389.03 381.60 1387.60 C383.55 1386.17 385.97 1385.75 387.80 1386.00 C389.63 1386.25 390.77 1386.62 392.60 1389.10 C394.43 1391.58 397.10 1396.05 398.80 1400.90 C400.50 1405.75 402.27 1412.70 402.80 1418.20 C403.33 1423.70 402.67 1429.58 402.00 1433.90 C401.33 1438.22 399.45 1442.00 398.80 1444.10 C398.15 1446.20 398.22 1446.10 398.10 1446.50  L394.1 1452.4 C388 1450 380 1446 373.7 1440.2 C371 1437 370 1433 369.8 1430 Z"/><path d="M380.00 1423.70 C380.17 1422.08 380.33 1416.70 381.00 1414.00 C381.67 1411.30 382.98 1409.03 384.00 1407.50 C385.02 1405.97 386.20 1403.67 387.10 1404.80 C388.00 1405.93 388.75 1411.10 389.40 1414.30 C390.05 1417.50 390.60 1420.88 391.00 1424.00 C391.40 1427.12 391.67 1431.50 391.80 1433.00  C388 1430 384 1427 380 1423.7 Z"/><path d="M387.10 1399.40 C387.88 1401.88 390.63 1409.20 391.80 1414.30 C392.97 1419.40 393.45 1425.03 394.10 1430.00 C394.75 1434.97 395.30 1440.93 395.70 1444.10 C396.10 1447.27 396.37 1448.18 396.50 1449.00 " fill="none"/><path d="M371.50 1431.00 C372.08 1431.67 373.58 1433.87 375.00 1435.00 C376.42 1436.13 377.20 1436.28 380.00 1437.80 C382.80 1439.32 389.13 1442.57 391.80 1444.10 C394.47 1445.63 395.30 1446.52 396.00 1447.00 " fill="none"/><path d="M379.2 1393.1 L387.1 1399.4 L395 1395.8 M372.1 1426.8 L379.2 1425.3 M371.3 1430.8 L375.3 1428.4" fill="none"/></g>
<g fill="#fff" stroke="#2a2a2a" stroke-width="1.1" stroke-linejoin="round"><path d="M931 1321.5 L951 1315.5 L952.5 1317 L934 1323 M931 1339.7 L951 1347.5 L952 1346 L934 1338" /><path d="M896.4 1330.5 C899 1324 905 1321.5 912.3 1321.5 L912.3 1339.5 C905 1339.5 899 1337 896.4 1330.5 Z"/><path d="M925 1321.5 L966 1318.6 L970 1346 L925 1341 Z"/><rect x="912.3" y="1320" width="4" height="21" rx="1.8"/><rect x="917" y="1320" width="4" height="21" rx="1.8"/><rect x="921.5" y="1320.5" width="4" height="20.5" rx="1.8"/><rect x="931.2" y="1330.2" width="25.5" height="3.7" rx="1.8"/><ellipse cx="970.5" cy="1332.4" rx="8" ry="14"/><ellipse cx="971.5" cy="1332.4" rx="5.5" ry="11"/></g>
<path d="M914.65 1366.06 L956.15 1380.36 A15.8 15.8 0 0 1 945.85 1410.24 L904.35 1395.94 A15.8 15.8 0 0 1 914.65 1366.06 Z" fill="none" stroke="#2a2a2a" stroke-width="5.5"/><path d="M914.65 1366.06 L956.15 1380.36 A15.8 15.8 0 0 1 945.85 1410.24 L904.35 1395.94 A15.8 15.8 0 0 1 914.65 1366.06 Z" fill="none" stroke="#fff" stroke-width="3.3000000000000003"/><line x1="913.93" y1="1368.14" x2="915.36" y2="1363.98" stroke="#2a2a2a" stroke-width="0.9"/><line x1="905.07" y1="1393.86" x2="903.64" y2="1398.02" stroke="#2a2a2a" stroke-width="0.9"/><line x1="955.43" y1="1382.44" x2="956.86" y2="1378.28" stroke="#2a2a2a" stroke-width="0.9"/><line x1="946.57" y1="1408.16" x2="945.14" y2="1412.32" stroke="#2a2a2a" stroke-width="0.9"/><line x1="932.33" y1="1372.15" x2="937.72" y2="1374.01" stroke="#fff" stroke-width="7.4"/><line x1="921.37" y1="1368.38" x2="929.58" y2="1371.21" stroke="#1c1c1c" stroke-width="5.80" stroke-linecap="round"/><line x1="940.46" y1="1374.96" x2="942.53" y2="1375.67" stroke="#1c1c1c" stroke-width="5.80" stroke-linecap="round"/>
<path d="M855 1443 C845 1437 835 1434 828 1436.5 C824 1439 826 1442 832 1443 C840 1444 848 1445 856 1446" fill="none" stroke="#2a2a2a" stroke-width="3.6999999999999997" stroke-linejoin="round" stroke-linecap="butt"/>
<path d="M855 1443 C845 1437 835 1434 828 1436.5 C824 1439 826 1442 832 1443 C840 1444 848 1445 856 1446" fill="none" stroke="#fff" stroke-width="1.9" stroke-linejoin="round" stroke-linecap="butt"/>
<path d="M869 1448 C874 1451 876 1455 880 1456.5 C886 1457 892 1455 896 1459 C900 1462 906 1463 912 1460 C918 1457 924 1456 930 1455 C936 1454 939 1458 941 1455 C943 1450 945 1447 952 1445 C960 1443 970 1446 977 1449" fill="none" stroke="#2a2a2a" stroke-width="3.6999999999999997" stroke-linejoin="round" stroke-linecap="butt"/>
<path d="M869 1448 C874 1451 876 1455 880 1456.5 C886 1457 892 1455 896 1459 C900 1462 906 1463 912 1460 C918 1457 924 1456 930 1455 C936 1454 939 1458 941 1455 C943 1450 945 1447 952 1445 C960 1443 970 1446 977 1449" fill="none" stroke="#fff" stroke-width="1.9" stroke-linejoin="round" stroke-linecap="butt"/>
<path d="M991 1450 C1000 1447 1008 1443 1014 1443 C1020 1444 1019 1448 1012 1449.5 C1004 1451 996 1452 990 1452" fill="none" stroke="#2a2a2a" stroke-width="3.6999999999999997" stroke-linejoin="round" stroke-linecap="butt"/>
<path d="M991 1450 C1000 1447 1008 1443 1014 1443 C1020 1444 1019 1448 1012 1449.5 C1004 1451 996 1452 990 1452" fill="none" stroke="#fff" stroke-width="1.9" stroke-linejoin="round" stroke-linecap="butt"/>
<g fill="#fff" stroke="#2a2a2a" stroke-width="1"><path d="M855 1441.5 L869.5 1444.5 L868 1451 L854 1448 Z"/><path d="M977 1447 L990.8 1445.5 L991.5 1452.5 L977.5 1454 Z"/></g>
<g fill="none" shape-rendering="crispEdges">
<line x1="181" y1="5" x2="1342" y2="5" stroke="#777" stroke-width="2"/>
<line x1="182" y1="4" x2="182" y2="1515" stroke="#6e6e6e" stroke-width="2"/>
<line x1="1341" y1="4" x2="1341" y2="1515" stroke="#444" stroke-width="2"/>
<line x1="181" y1="1514" x2="1342" y2="1514" stroke="#5e5e5e" stroke-width="2"/>
<line x1="182" y1="1527" x2="182" y2="1528" stroke="#888" stroke-width="2"/>
<line x1="1341" y1="1527" x2="1341" y2="1528" stroke="#444" stroke-width="2"/>
<line x1="181" y1="251" x2="1342" y2="251" stroke="#555" stroke-width="2"/>
<line x1="181" y1="726" x2="1342" y2="726" stroke="#6a6a6a" stroke-width="2"/>
<line x1="181" y1="1005" x2="1342" y2="1005" stroke="#555" stroke-width="2"/>
<line x1="181" y1="1162" x2="1342" y2="1162" stroke="#555" stroke-width="2"/>
<g stroke="#4e4e4e" stroke-width="1.5" shape-rendering="auto">
<rect x="232.4" y="1240.2" width="1058.3" height="238.1"/>
<line x1="232" y1="1299.6" x2="1291" y2="1299.6"/>
<line x1="232" y1="1359.3" x2="1291" y2="1359.3"/>
<line x1="761" y1="1418.6" x2="1291" y2="1418.6"/>
<line x1="286" y1="1240" x2="286" y2="1478"/>
<line x1="507.8" y1="1240" x2="507.8" y2="1478"/>
<line x1="697.8" y1="1240" x2="697.8" y2="1478"/>
<line x1="761.6" y1="1240" x2="761.6" y2="1478"/>
<line x1="815.3" y1="1240" x2="815.3" y2="1478"/>
<line x1="1037.3" y1="1240" x2="1037.3" y2="1478"/>
<line x1="1227.4" y1="1240" x2="1227.4" y2="1478"/>
</g>
</g>
</svg>
<div class="t" style="left:594.21px;top:19.39px;font-size:46.0px;line-height:46.0px;color:#111">Safety Hardware</div>
<div class="t" style="left:565.41px;top:63.90px;font-size:39.16px;line-height:39.16px;color:#111">Assembly Instructions</div>
<div class="t" style="left:203.52px;top:151.94px;font-size:29.41px;line-height:29.41px;color:#111">Caution: Read before unpacking assembling parts. Sharp exposed staple tips can cause injuries.</div>
<div class="t" style="left:203.62px;top:190.64px;font-size:29.41px;line-height:29.41px;color:#111">For your protection, please remove any exposed staples used in packing.</div>
<div class="t" style="left:192.76px;top:749.68px;font-size:29.6px;line-height:29.6px;color:#111">INSTRUCTIONS:</div>
<div class="t" style="left:203.69px;top:804.33px;font-size:29.43px;line-height:29.43px;color:#111">Step 1: Use the plastic anchors with screws to attach the wall ring  bracket on the wall.</div>
<div class="t" style="left:204.72px;top:839.13px;font-size:29.43px;line-height:29.43px;color:#111">Please see the illustration above</div>
<div class="t" style="left:203.69px;top:887.43px;font-size:29.43px;line-height:29.43px;color:#111">Step 2: Use the quick link to connect each loop end of the cable to each bracket on</div>
<div class="t" style="left:205.31px;top:923.03px;font-size:29.43px;line-height:29.43px;color:#111">the wall and the back of the product. Rotate sleeves of each quick link to secure cable</div>
<div class="t" style="left:205.01px;top:957.45px;font-size:29.4px;line-height:29.4px;color:#111">loops to the ring bracket.</div>
<div class="t" style="left:192.01px;top:1020.60px;font-size:29.7px;line-height:29.7px;color:#111">NOTES</div>
<div class="t" style="left:207.31px;top:1066.94px;font-size:29.53px;line-height:29.53px;color:#111">Before discarding packaging material be sure you have located all the parts including</div>
<div class="t" style="left:207.31px;top:1102.28px;font-size:29.48px;line-height:29.48px;color:#111">the necessary hardware and tools listed on the hardware list below</div>
<div class="t" style="left:192.31px;top:1176.70px;font-size:29.7px;line-height:29.7px;color:#111">Hardware  List:</div>
<div class="t" style="left:243.00px;top:288.82px;font-size:28.6px;line-height:28.6px;color:#111">Wall</div>
<div class="t" style="left:681.91px;top:306.07px;font-size:29.5px;line-height:29.5px;color:#111">Back of the product</div>
<div class="t" style="left:351.82px;top:346.45px;font-size:29.4px;line-height:29.4px;color:#111">C</div>
<div class="t" style="left:405.72px;top:357.85px;font-size:29.4px;line-height:29.4px;color:#111">B</div>
<div class="t" style="left:506.91px;top:385.65px;font-size:29.4px;line-height:29.4px;color:#111">A</div>
<div class="t" style="left:600.12px;top:418.45px;font-size:29.4px;line-height:29.4px;color:#111">D</div>
<div class="t" style="left:742.62px;top:465.85px;font-size:29.4px;line-height:29.4px;color:#111">E</div>
<div class="t" style="left:1160.12px;top:327.55px;font-size:29.4px;line-height:29.4px;color:#111">B</div>
<div class="t" style="left:1158.31px;top:366.35px;font-size:29.4px;line-height:29.4px;color:#111">A</div>
<div class="t" style="left:1159.12px;top:514.05px;font-size:29.4px;line-height:29.4px;color:#111">D</div>
<div class="t" style="left:239.34px;top:1255.90px;font-size:28.5px;line-height:28.5px;color:#111">NO</div>
<div class="t" style="left:347.13px;top:1259.10px;font-size:22.4px;line-height:22.4px;color:#111">FIGURE</div>
<div class="t" style="left:533.73px;top:1259.46px;font-size:22.2px;line-height:22.2px;color:#111">DESCRIPTION</div>
<div class="t" style="left:705.62px;top:1259.63px;font-size:22.0px;line-height:22.0px;color:#111">Q'TY</div>
<div class="t" style="left:769.25px;top:1255.90px;font-size:28.5px;line-height:28.5px;color:#111">NO</div>
<div class="t" style="left:876.83px;top:1259.10px;font-size:22.4px;line-height:22.4px;color:#111">FIGURE</div>
<div class="t" style="left:1063.53px;top:1259.46px;font-size:22.2px;line-height:22.2px;color:#111">DESCRIPTION</div>
<div class="t" style="left:1235.22px;top:1259.63px;font-size:22.0px;line-height:22.0px;color:#111">Q'TY</div>
<div class="t" style="left:246.25px;top:1312.06px;font-size:35.5px;line-height:35.5px;color:#111">A</div>
<div class="t" style="left:246.13px;top:1401.06px;font-size:35.5px;line-height:35.5px;color:#111">B</div>
<div class="t" style="left:775.38px;top:1311.86px;font-size:35.5px;line-height:35.5px;color:#111">C</div>
<div class="t" style="left:775.13px;top:1372.36px;font-size:35.5px;line-height:35.5px;color:#111">D</div>
<div class="t" style="left:775.13px;top:1431.56px;font-size:35.5px;line-height:35.5px;color:#111">E</div>
<div class="t" style="left:521.33px;top:1321.38px;font-size:21.1px;line-height:21.1px;color:#111">Screw</div>
<div class="t" style="left:723.23px;top:1321.05px;font-size:21.5px;line-height:21.5px;color:#111">2</div>
<div class="t" style="left:527.40px;top:1404.46px;font-size:21.13px;line-height:21.13px;color:#111">Wall Ring Bracket</div>
<div class="t" style="left:722.87px;top:1404.15px;font-size:21.5px;line-height:21.5px;color:#111">1</div>
<div class="t" style="left:1051.66px;top:1317.51px;font-size:21.3px;line-height:21.3px;color:#111">Plastic Anchors</div>
<div class="t" style="left:1252.13px;top:1320.35px;font-size:21.5px;line-height:21.5px;color:#111">2</div>
<div class="t" style="left:1051.46px;top:1380.66px;font-size:21.0px;line-height:21.0px;color:#111">Quick Link</div>
<div class="t" style="left:1252.13px;top:1380.25px;font-size:21.5px;line-height:21.5px;color:#111">2</div>
<div class="t" style="left:1051.44px;top:1435.63px;font-size:21.4px;line-height:21.4px;color:#111">Cable</div>
<div class="t" style="left:1252.07px;top:1439.85px;font-size:21.5px;line-height:21.5px;color:#111">1</div>
</body></html>
